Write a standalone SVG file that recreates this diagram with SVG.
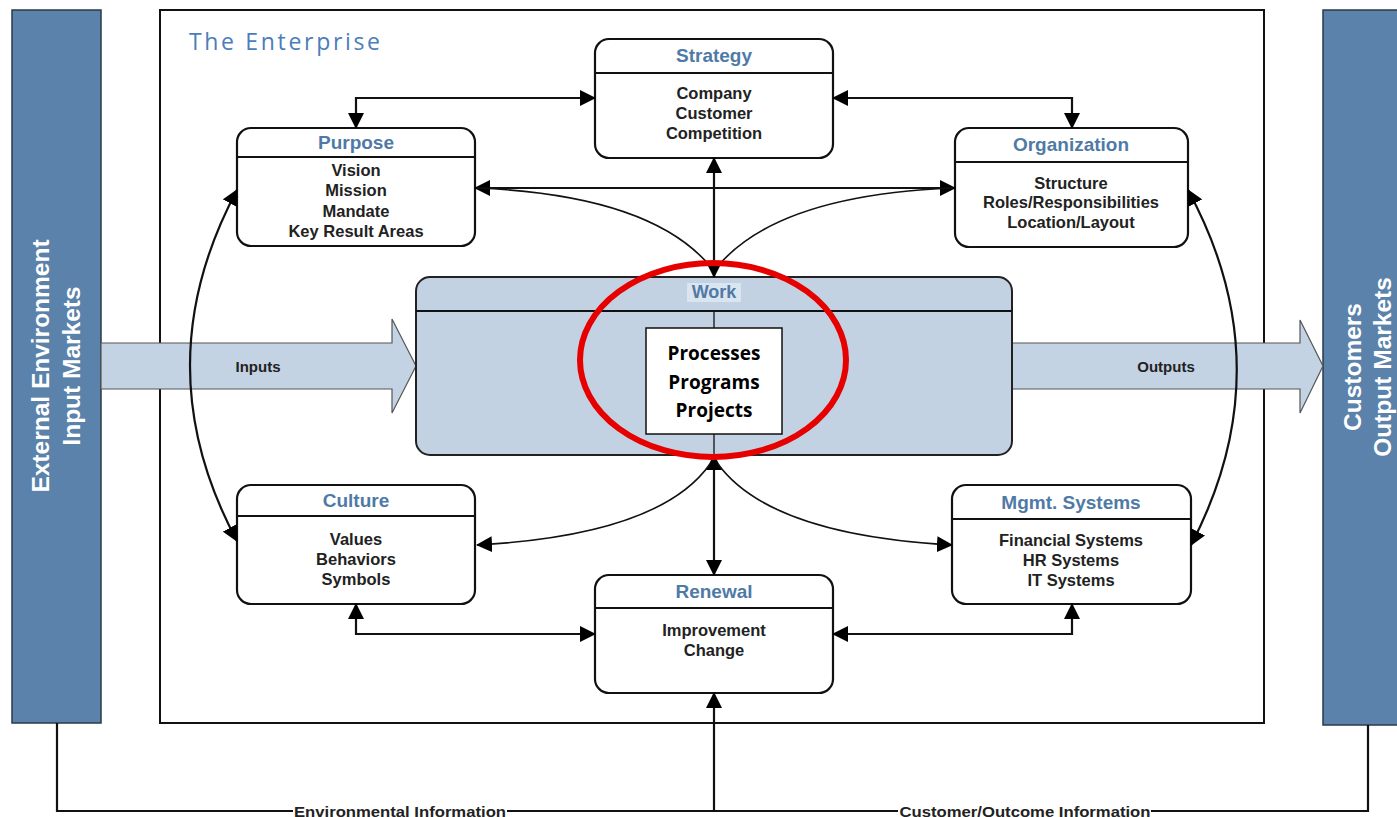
<svg xmlns="http://www.w3.org/2000/svg" width="1397" height="817" viewBox="0 0 1397 817">
<style>
.box{fill:#fff;stroke:#111;stroke-width:2.2}
.hdr{stroke:#111;stroke-width:2.2}
.ttl{font-family:"Liberation Sans",Arial,sans-serif;font-weight:bold;font-size:19px;fill:#4f7aa6;text-anchor:middle;dominant-baseline:central}
.itm{font-family:"Liberation Sans",Arial,sans-serif;font-weight:bold;font-size:16.5px;fill:#222;text-anchor:middle;dominant-baseline:central}
.bar{fill:#5b82aa;stroke:#2a3a4a;stroke-width:1.5}
.bartxt{font-family:"Liberation Sans",Arial,sans-serif;font-weight:bold;font-size:24.5px;fill:#fff;text-anchor:middle;dominant-baseline:central}
.flow{fill:#c3d3e3;stroke:#555;stroke-width:1.2}
.con{fill:none;stroke:#111;stroke-width:2.2}
.thin{fill:none;stroke:#111;stroke-width:1.6}
.lbl{font-family:"Liberation Sans",Arial,sans-serif;font-weight:bold;font-size:15px;fill:#222;text-anchor:middle;dominant-baseline:central}
.work{font-family:"Open Sans",sans-serif;font-weight:700;font-size:19px;fill:#000;text-anchor:middle;dominant-baseline:central}
</style>
<defs>
<marker id="ah" viewBox="0 0 16 16" refX="15" refY="8" markerWidth="16" markerHeight="16" orient="auto-start-reverse" markerUnits="userSpaceOnUse">
<path d="M0,0 L16,8 L0,16 z" fill="#000"/>
</marker>
</defs>
<rect width="1397" height="817" fill="#fff"/>

<g id="external-environment">
<rect class="bar" x="12" y="10" width="89" height="713"/>
<text class="bartxt" transform="translate(40,366) rotate(-90)">External Environment</text>
<text class="bartxt" transform="translate(71,366) rotate(-90)">Input Markets</text>
</g>

<g id="customers">
<rect class="bar" x="1323" y="10" width="80" height="715"/>
<text class="bartxt" transform="translate(1352,367) rotate(-90)">Customers</text>
<text class="bartxt" transform="translate(1382,367) rotate(-90)">Output Markets</text>
</g>

<g id="enterprise">
<rect x="160" y="10" width="1104" height="713" fill="none" stroke="#111" stroke-width="2"/>
<text x="189" y="50" font-family="'Open Sans',sans-serif" font-size="23" textLength="191" lengthAdjust="spacing" fill="#4a7dba">The Enterprise</text>
</g>

<g id="inputs">
<path class="flow" d="M101,343 H392 V319 L416,366 L392,413 V389 H101 Z"/>
<text class="lbl" x="258" y="366">Inputs</text>
</g>
<g id="outputs">
<path class="flow" d="M1012,343 H1300 V320 L1323,366 L1300,413 V389 H1012 Z"/>
<text class="lbl" x="1166" y="366">Outputs</text>
</g>

<g id="work">
<rect x="416" y="277" width="596" height="178" rx="14" fill="#c2d2e2" stroke="#222" stroke-width="2"/>
<line x1="416" y1="311" x2="1012" y2="311" class="hdr"/>
<rect x="687" y="283" width="54" height="19" fill="#dbe5f0"/>
<text class="ttl" x="714" y="292" style="font-size:18px">Work</text>
<line x1="714" y1="311" x2="714" y2="328" stroke="#111" stroke-width="1.3"/>
<line x1="714" y1="434" x2="714" y2="455" stroke="#111" stroke-width="1.3"/>
<rect x="646" y="328" width="136" height="106" fill="#fff" stroke="#111" stroke-width="1.5"/>
<text class="work" x="714" y="353">Processes</text>
<text class="work" x="714" y="382">Programs</text>
<text class="work" x="714" y="410">Projects</text>
</g>

<g id="strategy">
<rect class="box" x="595" y="39" width="238" height="119" rx="14"/>
<line class="hdr" x1="595" y1="73" x2="833" y2="73"/>
<text class="ttl" x="714" y="55">Strategy</text>
<text class="itm" x="714" y="93">Company</text>
<text class="itm" x="714" y="113">Customer</text>
<text class="itm" x="714" y="133">Competition</text>
</g>

<g id="purpose">
<rect class="box" x="237" y="128" width="238" height="118" rx="14"/>
<line class="hdr" x1="237" y1="157" x2="475" y2="157"/>
<text class="ttl" x="356" y="142">Purpose</text>
<text class="itm" x="356" y="170">Vision</text>
<text class="itm" x="356" y="190">Mission</text>
<text class="itm" x="356" y="211">Mandate</text>
<text class="itm" x="356" y="231">Key Result Areas</text>
</g>

<g id="organization">
<rect class="box" x="955" y="128" width="233" height="119" rx="14"/>
<line class="hdr" x1="955" y1="162" x2="1188" y2="162"/>
<text class="ttl" x="1071" y="144">Organization</text>
<text class="itm" x="1071" y="183">Structure</text>
<text class="itm" x="1071" y="202">Roles/Responsibilities</text>
<text class="itm" x="1071" y="222">Location/Layout</text>
</g>

<g id="culture">
<rect class="box" x="237" y="485" width="238" height="119" rx="14"/>
<line class="hdr" x1="237" y1="516" x2="475" y2="516"/>
<text class="ttl" x="356" y="500">Culture</text>
<text class="itm" x="356" y="539">Values</text>
<text class="itm" x="356" y="559">Behaviors</text>
<text class="itm" x="356" y="579">Symbols</text>
</g>

<g id="renewal">
<rect class="box" x="595" y="575" width="238" height="118" rx="14"/>
<line class="hdr" x1="595" y1="608" x2="833" y2="608"/>
<text class="ttl" x="714" y="591">Renewal</text>
<text class="itm" x="714" y="630">Improvement</text>
<text class="itm" x="714" y="650">Change</text>
</g>

<g id="mgmt-systems">
<rect class="box" x="952" y="485" width="239" height="119" rx="14"/>
<line class="hdr" x1="952" y1="519" x2="1191" y2="519"/>
<text class="ttl" x="1071" y="502">Mgmt. Systems</text>
<text class="itm" x="1071" y="540">Financial Systems</text>
<text class="itm" x="1071" y="560">HR Systems</text>
<text class="itm" x="1071" y="580">IT Systems</text>
</g>

<g id="connectors">
<path class="con" d="M356,128 V98 H595" marker-start="url(#ah)" marker-end="url(#ah)"/>
<path class="con" d="M833,98 H1072 V128" marker-start="url(#ah)" marker-end="url(#ah)"/>
<path class="con" d="M475,188 H955" marker-start="url(#ah)" marker-end="url(#ah)"/>
<path class="con" d="M714,277 V158" marker-start="url(#ah)" marker-end="url(#ah)"/>
<path class="thin" d="M710,266 Q650,195 477,188"/>
<path class="thin" d="M718,266 Q778,195 953,188"/>
<path class="con" d="M714,455 V575" marker-start="url(#ah)" marker-end="url(#ah)"/>
<path class="thin" d="M710,464 Q660,535 477,545" marker-end="url(#ah)"/>
<path class="thin" d="M718,464 Q770,535 952,545" marker-end="url(#ah)"/>
<path class="con" d="M356,604 V634 H595" marker-start="url(#ah)" marker-end="url(#ah)"/>
<path class="con" d="M833,634 H1072 V604" marker-start="url(#ah)" marker-end="url(#ah)"/>
<path class="con" d="M237,190 Q143,366 237,541" marker-start="url(#ah)" marker-end="url(#ah)"/>
<path class="con" d="M1188,190 Q1284,367 1191,545" marker-start="url(#ah)" marker-end="url(#ah)"/>
<path class="con" d="M57,723 V811 H1368 V725"/>
<path class="con" d="M714,811 V693" marker-end="url(#ah)"/>
<rect x="293" y="801" width="214" height="16" fill="#fff"/>
<text class="lbl" x="400" y="811" textLength="212" lengthAdjust="spacingAndGlyphs">Environmental Information</text>
<rect x="898" y="801" width="253" height="16" fill="#fff"/>
<text class="lbl" x="1025" y="811" textLength="251" lengthAdjust="spacingAndGlyphs">Customer/Outcome Information</text>
</g>

<g id="highlight">
<ellipse cx="713" cy="360" rx="133" ry="97" fill="none" stroke="#e60000" stroke-width="6"/>
</g>
</svg>
